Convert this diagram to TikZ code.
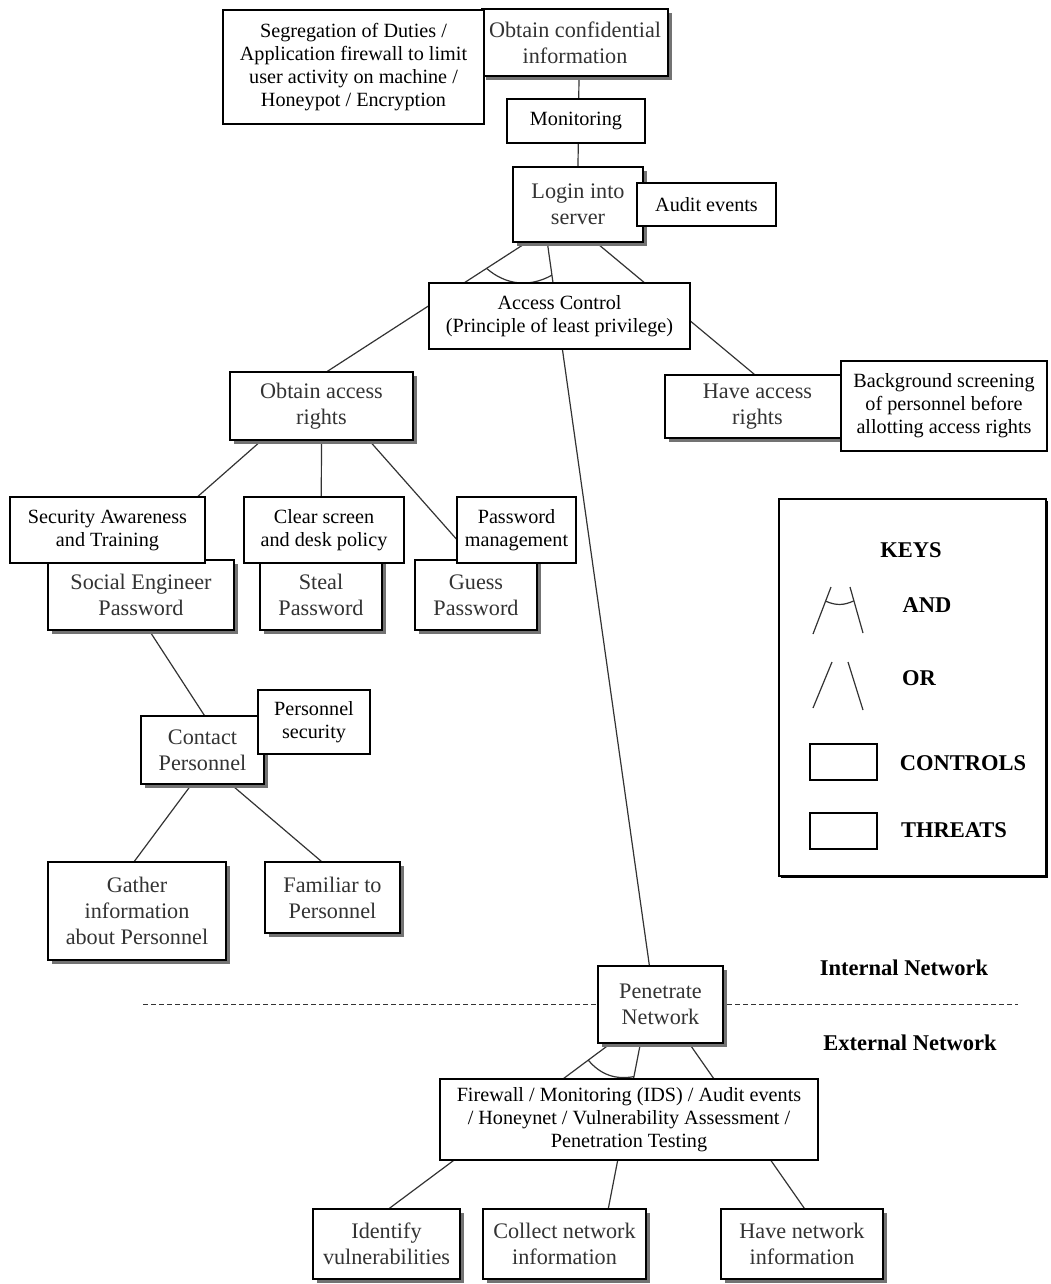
\documentclass[tikz,border=0pt]{standalone}
\usepackage{fontspec}
\setmainfont{Liberation Serif}
\usetikzlibrary{shadows,calc}
\pgfdeclarelayer{background}
\pgfsetlayers{background,main}
\newcommand\ctlfont{\fontsize{20.2}{23}\selectfont}
\newcommand\thrfont{\fontsize{22.2}{26}\selectfont}
\newcommand\keyfont{\fontsize{22.5}{24}\selectfont\bfseries}

\begin{document}
\begin{tikzpicture}[x=1pt,y=-1pt,
  sz/.style 2 args={minimum width=#1pt, minimum height=#2pt},
  threat/.style={draw=black, line width=1.3pt, fill=white, align=center,
    inner sep=1pt, font=\thrfont, text=black!80,
    drop shadow={shadow xshift=4pt, shadow yshift=-4pt, fill=black!55, opacity=1}},
  control/.style={draw=black, line width=1.1pt, fill=white, align=center,
    inner sep=1pt, font=\ctlfont, text=black},
  link/.style={draw=black!80, line width=1.2pt},
  keylbl/.style={font=\keyfont, inner sep=0pt},
  netline/.style={draw=black!80, line width=1pt, dash pattern=on 5pt off 3pt},
]
\useasboundingbox (0,0) rectangle (1051,1284);

% ---------------- threats ----------------
\node[threat, sz={186}{67}] (obtconf) at (575,42.5) {Obtain confidential\\information};
\node[threat, sz={130}{75}] (login) at (578,204.5) {Login into\\server};
\node[threat, sz={185}{63}] (haveacc) at (757.5,406.5) {Have access\\rights};
\node[threat, sz={183}{68}] (obtacc) at (321.5,406) {Obtain access\\rights};
\node[threat, sz={186}{70}] (soceng) at (141,595) {Social Engineer\\Password};
\node[threat, sz={122}{70}] (steal) at (321,595) {Steal\\Password};
\node[threat, sz={122}{70}] (guess) at (476,595) {Guess\\Password};
\node[threat, sz={123}{68}] (contact) at (202.5,750) {Contact\\Personnel};
\node[threat, sz={178}{98}] (gather) at (137,911) {Gather\\information\\about Personnel};
\node[threat, sz={135}{71}] (familiar) at (332.5,897.5) {Familiar to\\Personnel};
\node[threat, sz={125}{77}] (penet) at (660.5,1004.5) {Penetrate\\Network};
\node[threat, sz={147}{70}] (identify) at (386.5,1244) {Identify\\vulnerabilities};
\node[threat, sz={163}{70}] (collect) at (564.5,1244) {Collect network\\information};
\node[threat, sz={162}{70}] (havenet) at (802,1244) {Have network\\information};

% ---------------- controls ----------------
\node[control, sz={261}{114}] (seg) at (353.5,67) {Segregation of Duties /\\Application firewall to limit\\user activity on machine /\\Honeypot / Encryption};
\node[control, sz={138}{44}] (mon) at (576,121) {Monitoring};
\node[control, sz={139}{43}] (audit) at (706.5,204.5) {Audit events};
\node[control, sz={261}{66}] (accctl) at (559.5,316) {Access Control\\(Principle of least privilege)};
\node[control, sz={206}{90}] (bgscr) at (944,406) {Background screening\\of personnel before\\allotting access rights};
\node[control, sz={195}{66}] (secaw) at (107.5,530) {Security Awareness\\and Training};
\node[control, sz={160}{66}] (clrscr) at (324,530) {Clear screen\\and desk policy};
\node[control, sz={119}{66}] (pwdmg) at (516.5,530) {Password\\management};
\node[control, sz={112}{64}] (persec) at (314,722) {Personnel\\security};
\node[control, sz={378}{81}] (fw) at (629,1119.5) {Firewall / Monitoring (IDS) / Audit events\\/ Honeynet / Vulnerability Assessment /\\Penetration Testing};

% ---------------- network boundary ----------------
\node[keylbl] (intnet) at (904,968) {Internal Network};
\node[keylbl] (extnet) at (910,1043) {External Network};

% ---------------- legend ----------------
\node[draw=black, line width=2.6pt, fill=white, sz={267}{377},
  drop shadow={shadow xshift=1.5pt, shadow yshift=-1.5pt, fill=black, opacity=1}] (keys) at (912.5,687.5) {};
\node[keylbl] (ktitle) at (911,550) {KEYS};
\coordinate (a1) at (813,634); \coordinate (a2) at (831,587);
\coordinate (a3) at (850,587); \coordinate (a4) at (863,633);
\draw[link] (a1) -- (a2) (a3) -- (a4);
\draw[link] ($(a1)!.7!(a2)$) to[bend right=25] ($(a4)!.7!(a3)$);
\node[keylbl] (kand) at (927,605) {AND};
\coordinate (o1) at (813,708); \coordinate (o2) at (832,662);
\coordinate (o3) at (848,662); \coordinate (o4) at (863,710);
\draw[link] (o1) -- (o2) (o3) -- (o4);
\node[keylbl] (kor) at (919,678) {OR};
\node[draw=black, line width=1.1pt, sz={67}{36}] (kctl) at (843.5,762) {};
\node[keylbl] (kctltxt) at (963,763) {CONTROLS};
\node[draw=black, line width=1.1pt, sz={67}{36}] (kthr) at (843.5,831) {};
\node[keylbl] (kthrtxt) at (954,830) {THREATS};

% ---------------- connectors (behind the boxes) ----------------
\begin{pgfonlayer}{background}
  \coordinate (dl) at (143,1004);
  \coordinate (dr) at (1018,1004);
  \draw[netline] (dl) -- (dr);

  \draw[link] ([xshift=4pt]obtconf.south) -- (login.north);

  \coordinate (l1a) at ([xshift=14pt]login.south west);
  \coordinate (l1b) at ([xshift=98pt]obtacc.north west);
  \coordinate (l2a) at ([xshift=35pt]login.south west);
  \coordinate (l2b) at ([xshift=52pt]penet.north west);
  \draw[link] (l1a) -- (l1b);
  \draw[link] (l2a) -- (l2b);
  \draw[link] ([xshift=84pt]login.south west) -- ([xshift=90pt]haveacc.north west);
  \draw[link] ($(l1a)!.2!(l1b)$) to[bend right=35] ($(l2a)!.045!(l2b)$);

  \draw[link] ([xshift=32pt]obtacc.south west) -- ([xshift=79pt]soceng.north west);
  \draw[link] (obtacc.south) -- (steal.north);
  \draw[link] ([xshift=140pt]obtacc.south west) -- ([xshift=60pt]guess.north west);

  \draw[link] ([xshift=102pt]soceng.south west) -- ([xshift=64pt]contact.north west);
  \draw[link] ([xshift=51pt]contact.south west) -- ([xshift=87pt]gather.north west);
  \draw[link] ([xshift=91pt]contact.south west) -- ([xshift=57pt]familiar.north west);

  \coordinate (p1a) at ([xshift=13pt]penet.south west);
  \coordinate (p1b) at ([xshift=77pt]identify.north west);
  \coordinate (p2a) at ([xshift=43pt]penet.south west);
  \coordinate (p2b) at ([xshift=126pt]collect.north west);
  \draw[link] (p1a) -- (p1b);
  \draw[link] (p2a) -- (p2b);
  \draw[link] ([xshift=92pt]penet.south west) -- ([xshift=84pt]havenet.north west);
  \draw[link] ($(p1a)!.1!(p1b)$) to[bend right=30] ($(p2a)!.2!(p2b)$);
\end{pgfonlayer}
\end{tikzpicture}
\end{document}
